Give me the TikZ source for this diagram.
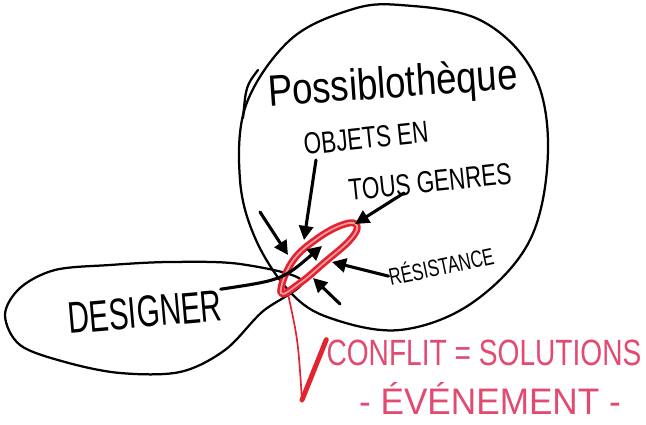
\documentclass[tikz,border=0pt]{standalone}
\usepackage{fontspec}
\setmainfont{Liberation Sans}
\usetikzlibrary{arrows.meta,positioning}
\definecolor{penred}{RGB}{226,36,48}
\definecolor{penpink}{RGB}{226,74,112}

\begin{document}
\begin{tikzpicture}[x=0.025cm, y=-0.025cm,
  ink/.style={line width=1.6pt, line cap=round, line join=round},
  push/.style={ink, line width=2.2pt, -{Triangle[length=10pt,width=10pt]}},
  hand/.style={inner sep=0pt, font=\fontsize{#1}{#1}\selectfont},
  redtext/.style={text=penpink}
]
\useasboundingbox (0,0) rectangle (646,425);

% the two bubbles
\draw[ink] plot[smooth cycle, tension=0.6] coordinates {
  (400,5) (480,20) (533,72) (548,150) (530,240) (472,303) (400,330)
  (330,318) (290,292) (256,240) (240,180) (246,105) (290,40) (350,10)};
\draw[ink] (258,70) .. controls (246,86) .. (243,118);
\draw[ink] plot[smooth cycle, tension=0.55] coordinates {
  (302,281) (240,264) (170,262) (110,265) (55,270) (20,288) (5,315)
  (20,345) (65,362) (120,373) (180,372) (225,350) (262,312)};

% texts
\node[hand=26, rotate=4, yscale=1.2] (possib) at (393,86) {Possiblothèque};
\node[hand=16, rotate=6, yscale=1.35] (objets) at (366,138) {OBJETS EN};
\node[hand=16, rotate=6, yscale=1.35] (genres) at (430,182) {TOUS GENRES};
\node[hand=12, rotate=12, yscale=1.4] (resist) at (441,265) {RÉSISTANCE};
\node[hand=21, rotate=5, yscale=1.5] (designer) at (145,312) {DESIGNER};
\node[hand=20, yscale=1.3, redtext] (conflit) at (484,353) {CONFLIT = SOLUTIONS};
\node[hand=25, yscale=1.05, redtext] (event) at (490,398) {- ÉVÉNEMENT -};

% the red knot
\draw[penred, line width=5pt, line join=round] plot[smooth cycle, tension=0.7] coordinates {
  (281,293) (292,262) (318,238) (345,224) (357,226) (350,240) (325,262) (300,283)};
\draw[penred!45!white, line width=1.2pt] plot[smooth cycle, tension=0.7] coordinates {
  (281,293) (292,262) (318,238) (345,224) (357,226) (350,240) (325,262) (300,283)};

\coordinate (knot) at (288,294);
\coordinate (foot) at (302,400);
\coordinate (t0) at (322,246);
\coordinate (s1) at (316,160);
\coordinate (t1) at (304,240);
\coordinate (s2) at (260,212);
\coordinate (t2) at (288,255);
\coordinate (s3) at (404,193);
\coordinate (t3) at (355,224);
\coordinate (t4) at (332,262);
\coordinate (s5) at (340,304);
\coordinate (t5) at (313,278);

% pressures on the knot
\draw[push] (designer.north east) .. controls (282,280) .. (t0);
\draw[push] (s1) -- (t1);
\draw[push] (s2) -- (t2);
\draw[push] (s3) -- (t3);
\draw[push] (resist.west) -- (t4);
\draw[push] (s5) -- (t5);

% red lead to the outcome
\draw[penred, line width=1.2pt] (knot) .. controls (298,340) .. (foot);
\draw[penred, line width=3.5pt, line cap=round] (foot) -- (conflit.north west);

\end{tikzpicture}
\end{document}
